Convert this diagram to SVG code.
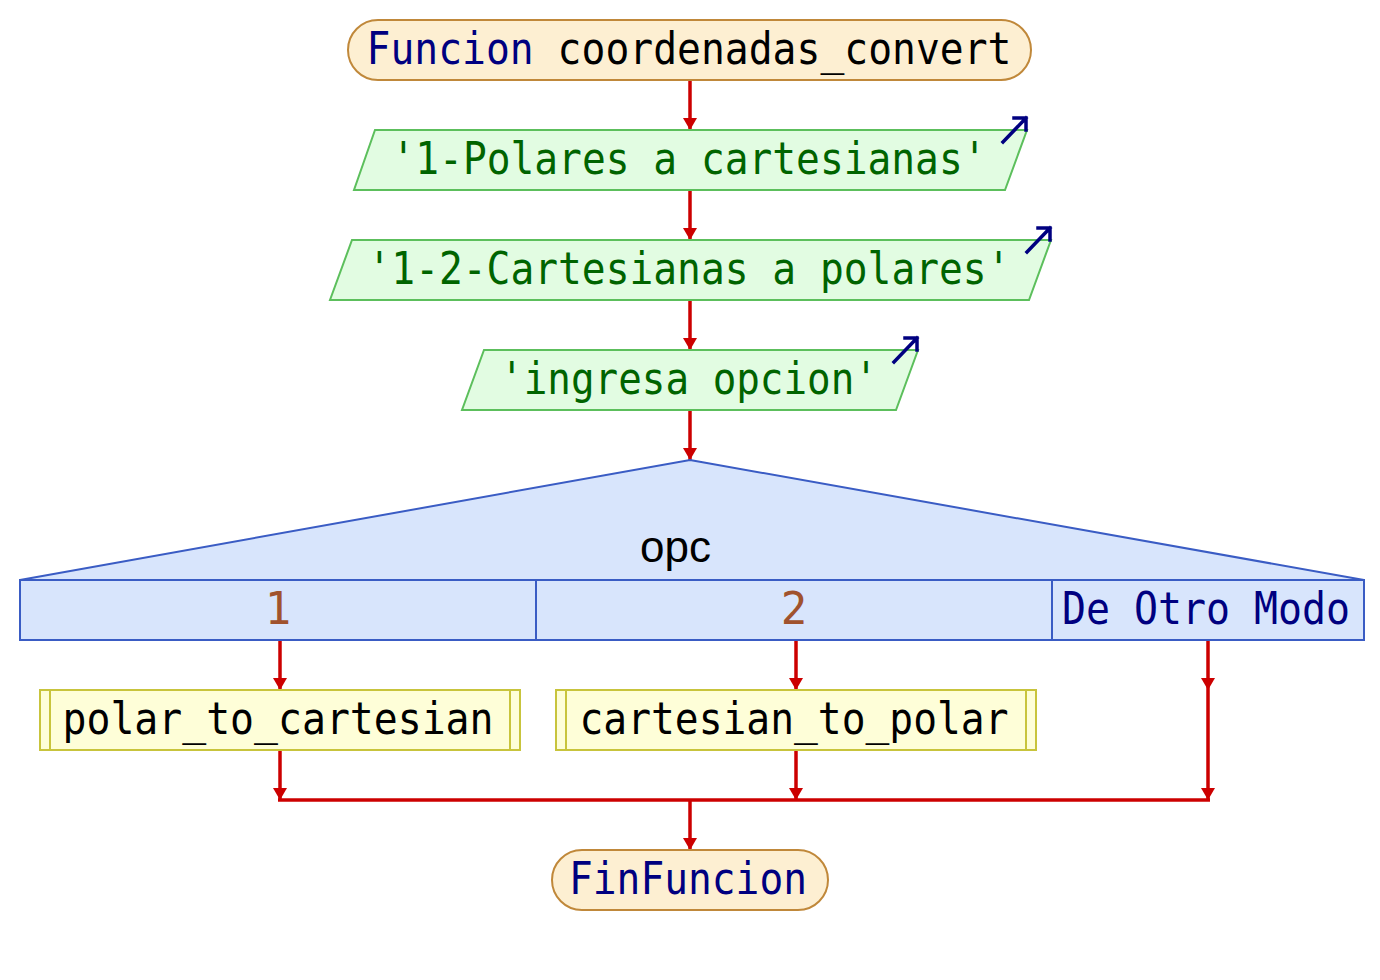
<svg xmlns="http://www.w3.org/2000/svg" width="1380" height="980" viewBox="0 0 1380 980">
<style>
.t{font-family:"DejaVu Sans Mono","Liberation Mono",monospace;font-size:44px;text-anchor:middle;}
.kw{fill:#000080;}
.blk{fill:#000000;}
.str{fill:#006400;}
.num{fill:#a0522d;}
.term{fill:#fdefd2;stroke:#c0883a;stroke-width:2;}
.io{fill:#e2fce2;stroke:#5cbf5c;stroke-width:2;}
.sw{fill:#d8e5fc;stroke:#3a5cc4;stroke-width:2;}
.proc{fill:#fefed8;stroke:#c8c43c;stroke-width:2;}
.con{stroke:#cc0000;stroke-width:3.5;fill:none;}
.ico{stroke:#000080;stroke-width:3.5;fill:none;stroke-linecap:square;}
</style>
<defs>
<marker id="ah" markerUnits="userSpaceOnUse" markerWidth="14" markerHeight="14" viewBox="0 0 12 14" refX="12" refY="7" orient="auto">
<path d="M0,0 L12,7 L0,14 z" fill="#cc0000"/>
</marker>
</defs>
<rect width="1380" height="980" fill="#ffffff"/>
<g id="connectors">
<line class="con" x1="690" y1="80" x2="690" y2="130" marker-end="url(#ah)"/>
<line class="con" x1="690" y1="190" x2="690" y2="240" marker-end="url(#ah)"/>
<line class="con" x1="690" y1="300" x2="690" y2="350" marker-end="url(#ah)"/>
<line class="con" x1="690" y1="410" x2="690" y2="460" marker-end="url(#ah)"/>
<line class="con" x1="280" y1="640" x2="280" y2="690" marker-end="url(#ah)"/>
<line class="con" x1="796" y1="640" x2="796" y2="690" marker-end="url(#ah)"/>
<line class="con" x1="1208" y1="640" x2="1208" y2="690" marker-end="url(#ah)"/>
<line class="con" x1="1208" y1="690" x2="1208" y2="800" marker-end="url(#ah)"/>
<line class="con" x1="280" y1="750" x2="280" y2="800" marker-end="url(#ah)"/>
<line class="con" x1="796" y1="750" x2="796" y2="800" marker-end="url(#ah)"/>
<line class="con" x1="278" y1="800" x2="1210" y2="800"/>
<line class="con" x1="690" y1="800" x2="690" y2="850" marker-end="url(#ah)"/>
</g>
<g id="start">
<rect class="term" x="348" y="20" width="683" height="60" rx="30" ry="30"/>
<text class="t" x="689" y="64" textLength="645" lengthAdjust="spacingAndGlyphs"><tspan class="kw">Funcion</tspan><tspan class="blk"> coordenadas_convert</tspan></text>
</g>
<g id="out1">
<polygon class="io" points="375,130 1027,130 1005,190 354,190"/>
<text class="t str" x="689" y="174" textLength="595" lengthAdjust="spacingAndGlyphs">'1-Polares a cartesianas'</text>
<path class="ico" d="M1003,142 L1026,118 M1014,118 L1026,118 L1026,130"/>
</g>
<g id="out2">
<polygon class="io" points="352,240 1051,240 1029,300 330,300"/>
<text class="t str" x="689" y="284" textLength="643" lengthAdjust="spacingAndGlyphs">'1-2-Cartesianas a polares'</text>
<path class="ico" d="M1027,252 L1050,228 M1038,228 L1050,228 L1050,240"/>
</g>
<g id="out3">
<polygon class="io" points="484,350 918,350 896,410 462,410"/>
<text class="t str" x="689" y="394" textLength="378" lengthAdjust="spacingAndGlyphs">'ingresa opcion'</text>
<path class="ico" d="M894,362 L917,338 M905,338 L917,338 L917,350"/>
</g>
<g id="switch">
<polygon class="sw" points="690,460 1364,580 20,580"/>
<text x="675.5" y="562" font-family="'Liberation Sans',Arial,sans-serif" font-size="44" text-anchor="middle" fill="#000000">opc</text>
<rect class="sw" x="20" y="580" width="1344" height="60"/>
<line class="sw" x1="536" y1="580" x2="536" y2="640"/>
<line class="sw" x1="1052" y1="580" x2="1052" y2="640"/>
<text class="t num" x="278" y="624">1</text>
<text class="t num" x="794" y="624">2</text>
<text class="t kw" x="1206" y="624" textLength="288" lengthAdjust="spacingAndGlyphs">De Otro Modo</text>
</g>
<g id="proc1">
<rect class="proc" x="40" y="690" width="480" height="60"/>
<line class="proc" x1="50" y1="690" x2="50" y2="750"/>
<line class="proc" x1="510" y1="690" x2="510" y2="750"/>
<text class="t blk" x="278" y="734" textLength="431" lengthAdjust="spacingAndGlyphs">polar_to_cartesian</text>
</g>
<g id="proc2">
<rect class="proc" x="556" y="690" width="480" height="60"/>
<line class="proc" x1="566" y1="690" x2="566" y2="750"/>
<line class="proc" x1="1026" y1="690" x2="1026" y2="750"/>
<text class="t blk" x="794" y="734" textLength="429" lengthAdjust="spacingAndGlyphs">cartesian_to_polar</text>
</g>
<g id="end">
<rect class="term" x="552" y="850" width="276" height="60" rx="30" ry="30"/>
<text class="t kw" x="688" y="894" textLength="238" lengthAdjust="spacingAndGlyphs">FinFuncion</text>
</g>
</svg>
